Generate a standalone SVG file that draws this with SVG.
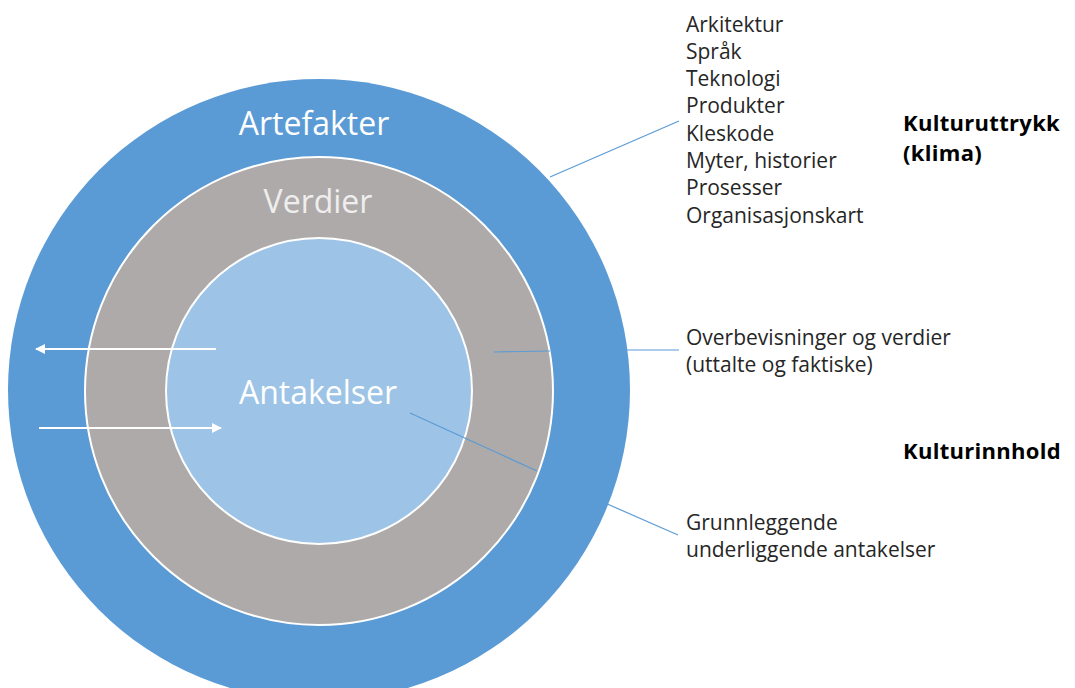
<svg xmlns="http://www.w3.org/2000/svg" width="1075" height="688" viewBox="0 0 1075 688">
<style>
.lbl{font-family:"Open Sans","Liberation Sans",sans-serif;font-size:21px;fill:#262626}
.bold{font-family:"Open Sans","Liberation Sans",sans-serif;font-size:22px;font-weight:bold;fill:#000;letter-spacing:0.3px}
.ring{font-family:"Open Sans","Liberation Sans",sans-serif;font-size:32px;fill:#fff;text-anchor:middle}
.call{stroke:#5B9BD5;stroke-width:1.2;fill:none}
.arr{stroke:#fff;stroke-width:2;fill:none}
</style>
<defs>
<marker id="ah" viewBox="0 0 10 10" refX="9" refY="5" markerWidth="5" markerHeight="5" orient="auto">
<path d="M0,0 L10,5 L0,10 z" fill="#fff"/>
</marker>
</defs>
<rect width="1075" height="688" fill="#fff"/>
<g id="artefakter">
<circle cx="319" cy="390" r="311" fill="#5B9BD5"/>
<text class="ring" x="314" y="135">Artefakter</text>
</g>
<g id="verdier">
<circle cx="319" cy="391" r="234" fill="#AEAAAA" stroke="#fff" stroke-width="2"/>
<text class="ring" x="318" y="213" style="fill:#eeeeee">Verdier</text>
</g>
<g id="antakelser">
<circle cx="319" cy="391" r="153" fill="#9DC3E6" stroke="#fff" stroke-width="2"/>
<text class="ring" x="318" y="404">Antakelser</text>
</g>
<g id="connectors">
<line class="arr" x1="216" y1="349" x2="36" y2="349" marker-end="url(#ah)"/>
<line class="arr" x1="39" y1="428" x2="221" y2="428" marker-end="url(#ah)"/>
<line class="call" x1="550" y1="177" x2="679" y2="121"/>
<line class="call" x1="494" y1="352" x2="550" y2="351"/>
<line class="call" x1="627" y1="350" x2="679" y2="350"/>
<line class="call" x1="410" y1="413" x2="537" y2="471"/>
<line class="call" x1="605" y1="503" x2="678" y2="535"/>
</g>
<g id="list">
<text class="lbl" x="686" y="32">Arkitektur</text>
<text class="lbl" x="686" y="59">Språk</text>
<text class="lbl" x="686" y="86">Teknologi</text>
<text class="lbl" x="686" y="113">Produkter</text>
<text class="lbl" x="686" y="141">Kleskode</text>
<text class="lbl" x="686" y="168">Myter, historier</text>
<text class="lbl" x="686" y="195">Prosesser</text>
<text class="lbl" x="686" y="223">Organisasjonskart</text>
</g>
<g id="kulturuttrykk">
<text class="bold" x="903" y="131">Kulturuttrykk</text>
<text class="bold" x="903" y="161">(klima)</text>
</g>
<g id="overbevisninger">
<text class="lbl" x="686" y="345">Overbevisninger og verdier</text>
<text class="lbl" x="686" y="372">(uttalte og faktiske)</text>
</g>
<g id="kulturinnhold">
<text class="bold" x="903" y="459">Kulturinnhold</text>
</g>
<g id="grunnleggende">
<text class="lbl" x="686" y="530">Grunnleggende</text>
<text class="lbl" x="686" y="557">underliggende antakelser</text>
</g>
</svg>
